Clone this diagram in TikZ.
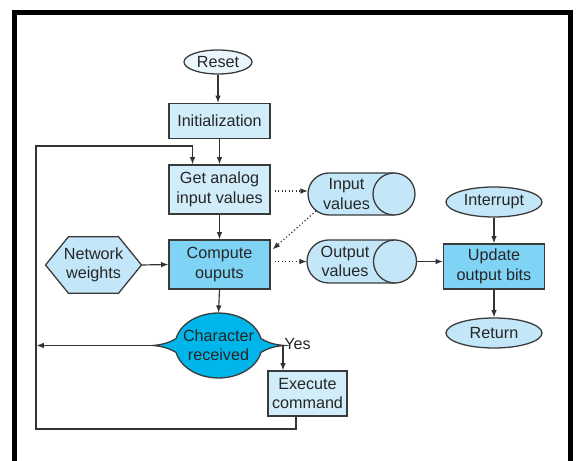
\documentclass[tikz,border=0pt]{standalone}
\usepackage{fontspec}
\setmainfont{Liberation Sans}
\usetikzlibrary{shapes.geometric,arrows.meta}
\newdimen\pxl
\pxl=0.03cm
\newcommand\fs{\fontsize{13.8}{16.6}\selectfont}
\definecolor{resetc}{HTML}{EAF6FD}
\definecolor{lightc}{HTML}{D2EDFA}
\definecolor{midc}{HTML}{C3E7F8}
\definecolor{darkc}{HTML}{7FD3F5}
\definecolor{chrc}{HTML}{00B5EA}
\definecolor{bordc}{HTML}{3A3A3A}
\definecolor{linec}{HTML}{333333}
\definecolor{txtc}{HTML}{262626}
\tikzset{
  base/.style={draw=bordc, line width=1.1pt, text=txtc, font=\fs, align=center, inner sep=0pt},
  lbox/.style={base, rectangle, fill=lightc},
  dbox/.style={base, rectangle, fill=darkc},
  oval/.style={base, ellipse, fill=midc},
  ghost/.style={inner sep=0pt, text=txtc, font=\fs, align=center},
  shp/.style={draw=bordc, line width=1.1pt},
  conn/.style={line width=1pt, draw=linec, -{Latex[length=0.22cm,width=0.17cm]}},
  dconn/.style={conn, dotted},
}
\newcommand\mycyl[6]{% name, xl, xr, cy, r, text x
  \filldraw[shp, fill=midc] (#3-#5,#4-#5) -- (#2+#5,#4-#5)
     arc[start angle=90, end angle=270, radius=#5\pxl] -- (#3-#5,#4+#5) -- cycle;
  \filldraw[shp, fill=midc] (#3-#5,#4) circle[radius=#5\pxl];
  \node[inner sep=0pt, minimum width={(#3-#2)*\pxl}, minimum height={2*#5*\pxl}] (#1) at ({(#2+#3)/2},#4) {};
}
\begin{document}
\begin{tikzpicture}[x=0.03cm, y=-0.03cm]
\useasboundingbox (0,0) rectangle (577,461);
% frame
\draw[line width=5\pxl, line join=miter] (14.5,461) -- (14.5,12.5) -- (570.5,12.5) -- (570.5,461);

% main column
\node[base, ellipse, fill=resetc, minimum width=68\pxl, minimum height=24\pxl] (reset) at (218,62) {Reset};
\node[lbox, minimum width=101\pxl, minimum height=35\pxl] (init) at (219.5,121) {Initialization};
\node[lbox, minimum width=101\pxl, minimum height=49\pxl] (get) at (219.5,189.5) {Get analog\\input values};
\node[dbox, minimum width=101\pxl, minimum height=49\pxl] (comp) at (219.5,264.5) {Compute\\ouputs};

% hexagon
\filldraw[shp, fill=midc] (45.5,265) -- (68.5,236.7) -- (118.5,236.7) -- (141.5,265) -- (118.5,293.3) -- (68.5,293.3) -- cycle;
\node[ghost, minimum width=96\pxl, minimum height=56.6\pxl] (hexn) at (93.5,265) {Network\\weights};

% character received
\filldraw[shp, fill=chrc] (153,345.5) .. controls (165,344.5) and (171,341.5) .. (176,338.6)
  arc[start angle=167.7, end angle=12.3, x radius=43.5\pxl, y radius=32.5\pxl]
  .. controls (266,341.5) and (272,344.5) .. (284,345.5)
  .. controls (272,346.5) and (266,349.5) .. (261,352.4)
  arc[start angle=-12.3, end angle=-167.7, x radius=43.5\pxl, y radius=32.5\pxl]
  .. controls (171,349.5) and (165,346.5) .. (153,345.5) -- cycle;
\node[ghost, ellipse, minimum width=87\pxl, minimum height=65\pxl] (chr) at (218.5,345.5) {Character\\received};
\coordinate (chrL) at (153,345.5);
\coordinate (chrR) at (283,345.5);
\node[ghost] (yes) at (297.5,344) {Yes};

\node[lbox, minimum width=79\pxl, minimum height=45\pxl] (exe) at (307.5,393.5) {Execute\\command};

% cylinders
\mycyl{inp}{308}{415}{194}{21}{346.5}
\node[ghost] (inpt) at (346.5,194) {Input\\values};
\mycyl{outp}{307}{416.5}{261.5}{21.5}{345}
\node[ghost] (outpt) at (345,261.5) {Output\\values};
\coordinate (inpcap) at (316,211);

% right column
\node[oval, minimum width=96\pxl, minimum height=30\pxl] (intr) at (494,202) {Interrupt};
\node[dbox, minimum width=101\pxl, minimum height=45\pxl] (upd) at (494,266.5) {Update\\output bits};
\node[oval, minimum width=96\pxl, minimum height=30\pxl] (ret) at (494,333) {Return};

% loop coordinates
\coordinate (lpA) at (296,429);
\coordinate (lpB) at (36,429);
\coordinate (lpC) at (36,146);
\coordinate (lpD) at (192.5,146);
\coordinate (lpM) at (36.5,345.5);

% connectors
\draw[conn] (reset) -- (reset.south |- init.north);
\draw[conn] (init) -- (get);
\draw[conn] (get) -- (comp);
\draw[conn] (comp.south) -- (chr.north);
\draw[conn] (hexn.east) -- (comp.west);
\draw[dconn] (get.east |- 0,191) ++(4,0) -- (inp.west |- 0,191);
\draw[dconn] (inpcap) -- ([shift={(2,10)}]comp.north east);
\draw[dconn] (comp.east |- outp.west) ++(4,0) -- (outp.west);
\draw[conn] (outp.east) -- (outp.east -| upd.west);
\draw[conn] (intr) -- (upd);
\draw[conn] (upd) -- (ret);
\draw[conn] (chrR) -- (chrR |- exe.north);
\draw[conn] (chrL) -- (lpM);
\draw[conn] (exe.south -| lpA) -- (lpA) -- (lpB) -- (lpC) -- (lpD) -- (lpD |- get.north);
\end{tikzpicture}
\end{document}
